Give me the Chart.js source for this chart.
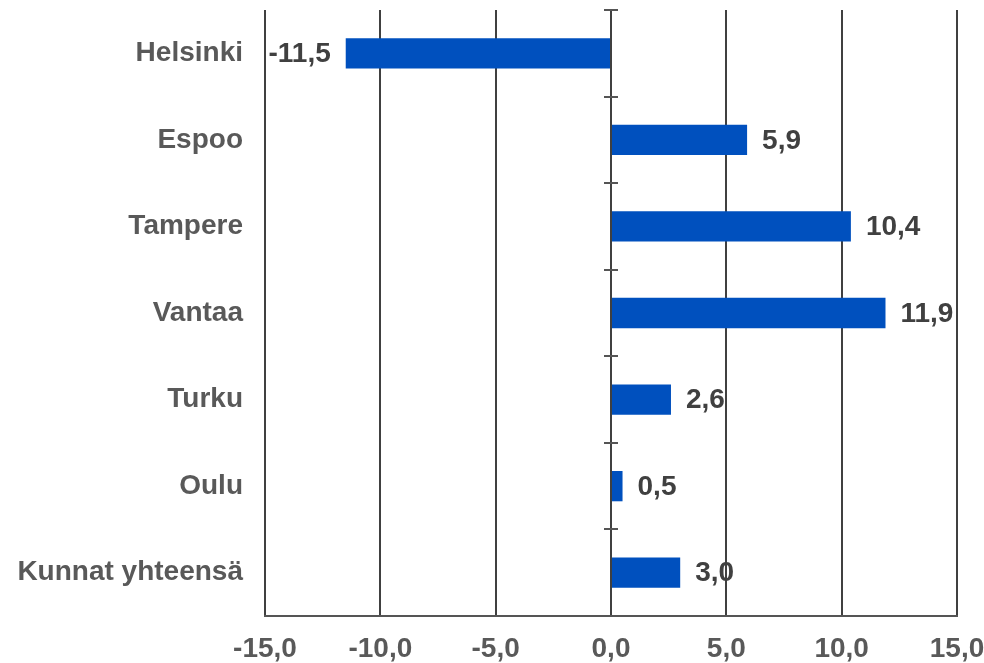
<!DOCTYPE html>
<html><head><meta charset="utf-8">
<script src="https://cdn.jsdelivr.net/npm/chart.js@4"></script>
<style>html,body{margin:0;padding:0;background:#fff}#wrap{width:984px;height:663px}</style>
</head><body><div id="wrap"><canvas id="c" width="984" height="663"></canvas></div>
<script>
const categories = ["Helsinki","Espoo","Tampere","Vantaa","Turku","Oulu","Kunnat yhteensä"];
const values = [-11.5, 5.9, 10.4, 11.9, 2.6, 0.5, 3.0];
const xMin = -15, xMax = 15, xStep = 5;

const fmt = v => v.toFixed(1).replace('.', ',');
const FONT = "'Liberation Sans', Arial, sans-serif";
const FSIZE = 28;

const zeroTicks = {
  id: 'zeroTicks',
  afterDatasetsDraw(chart) {
    const ctx = chart.ctx, xs = chart.scales.x, ys = chart.scales.y;
    const x0 = xs.getPixelForValue(0);
    ctx.save();
    ctx.strokeStyle = '#555555';
    ctx.lineWidth = 2;
    for (let i = 0; i <= categories.length; i++) {
      const y = Math.round(ys.getPixelForValue(i - 0.5));
      ctx.beginPath();
      ctx.moveTo(x0 - 7, y);
      ctx.lineTo(x0 + 7, y);
      ctx.stroke();
    }
    // data labels
    ctx.font = "bold " + FSIZE + "px " + FONT;
    ctx.fillStyle = '#404040';
    ctx.textBaseline = 'middle';
    const meta = chart.getDatasetMeta(0);
    meta.data.forEach((bar, i) => {
      const v = values[i];
      if (v < 0) {
        ctx.textAlign = 'right';
        ctx.fillText(fmt(v), bar.x - 15, bar.y + 1);
      } else {
        ctx.textAlign = 'left';
        ctx.fillText(fmt(v), bar.x + 15, bar.y + 1);
      }
    });
    ctx.restore();
  }
};

new Chart(document.getElementById('c'), {
  type: 'bar',
  data: {
    labels: categories,
    datasets: [{
      data: values,
      backgroundColor: '#0050BE',
      borderWidth: 0,
      barPercentage: 0.35,
      categoryPercentage: 1.0
    }]
  },
  options: {
    indexAxis: 'y',
    responsive: false,
    animation: false,
    events: [],
    layout: { padding: { left: 0, right: 27, top: 10, bottom: 0 } },
    plugins: { legend: { display: false }, tooltip: { enabled: false } },
    scales: {
      x: {
        min: xMin, max: xMax,
        ticks: {
          stepSize: xStep,
          padding: 16,
          color: '#595959',
          font: { family: FONT, size: FSIZE, weight: 'bold' },
          callback: v => fmt(v)
        },
        grid: {
          color: '#404040', lineWidth: 2, drawTicks: false
        },
        border: { display: true, color: '#555555', width: 2 },
        afterFit: s => { s.height = 47; s.paddingLeft = 0; s.paddingRight = 0; }
      },
      y: {
        ticks: {
          padding: 22,
          color: '#595959',
          font: { family: FONT, size: FSIZE, weight: 'bold' }
        },
        grid: { display: false, drawTicks: false },
        border: { display: false },
        afterFit: s => { s.width = 265; s.paddingTop = 0; s.paddingBottom = 0; }
      }
    }
  },
  plugins: [zeroTicks]
});
</script>
</body></html>
